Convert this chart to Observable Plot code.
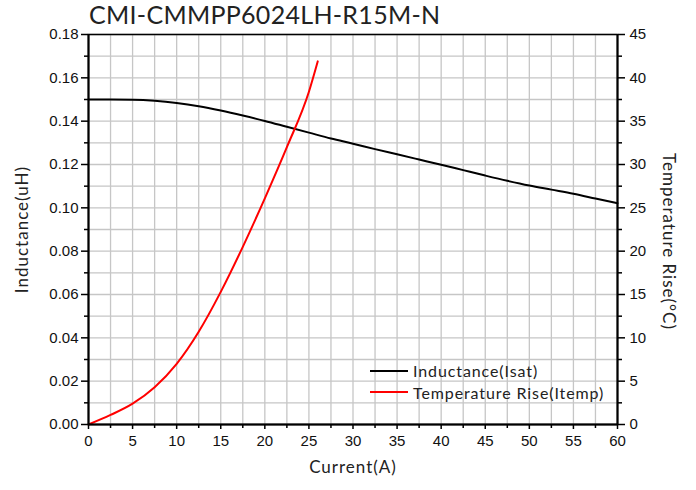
<!DOCTYPE html>
<html>
<head>
<meta charset="utf-8">
<script src="https://cdn.jsdelivr.net/npm/d3@7"></script>
<script src="https://cdn.jsdelivr.net/npm/@observablehq/plot@0.6"></script>
<style>
  html, body { margin: 0; padding: 0; background: white; }
  #wrap { position: relative; width: 696px; height: 490px; }
  #title { height: 24px; line-height: 24px; padding-left: 89px; font-family: Lato, sans-serif; font-size: 25px; letter-spacing: 0.3px; color: #222; white-space: nowrap; padding-top: 2px; box-sizing: border-box; }
  #legend { position: absolute; left: 370px; top: 360px; font-family: Lato, sans-serif; font-size: 16px; letter-spacing: 0.9px; color: #222; }
  .lg { display: flex; align-items: center; height: 21.5px; }
  .sw { width: 38px; height: 2px; margin-right: 5px; }
</style>
</head>
<body>
<div id="wrap">
  <div id="title">CMI-CMMPP6024LH-R15M-N</div>
  <div id="chart"></div>
  <div id="legend"></div>
</div>
<script>
const title = "CMI-CMMPP6024LH-R15M-N";
const xLabel = "Current(A)";
const yLabel = "Inductance(uH)";
const y2Label = "Temperature Rise(°C)";
const seriesNames = ["Inductance(Isat)", "Temperature Rise(Itemp)"];
const seriesColors = ["black", "red"];

// Inductance vs current
const indCurrent = [0, 2.5, 5, 7.5, 10, 12.5, 15, 17.5, 20, 22.5, 25, 27.5, 30, 32.5, 35, 37.5, 40, 42.5, 45, 47.5, 50, 52.5, 55, 57.5, 60];
const indValue = [0.1500, 0.1500, 0.1499, 0.1494, 0.1484, 0.1469, 0.1449, 0.1426, 0.1401, 0.1374, 0.1347, 0.1320, 0.1296, 0.1271, 0.1247, 0.1223, 0.1199, 0.1174, 0.1149, 0.1125, 0.1103, 0.1084, 0.1065, 0.1043, 0.1021];

// Temperature rise vs current
const tempCurrent = [0, 2.5, 5, 7.5, 10, 12.5, 15, 17.5, 20, 22.5, 25, 26];
const tempValue = [0, 1.1, 2.4, 4.3, 7.0, 10.7, 15.3, 20.5, 26.1, 32.0, 38.4, 41.9];

// ticks
const xTicks = [0, 5, 10, 15, 20, 25, 30, 35, 40, 45, 50, 55, 60];
const xMinor = [2.5, 7.5, 12.5, 17.5, 22.5, 27.5, 32.5, 37.5, 42.5, 47.5, 52.5, 57.5];
const yTicks = [0, 0.02, 0.04, 0.06, 0.08, 0.10, 0.12, 0.14, 0.16, 0.18];
const yMinor = [0.01, 0.03, 0.05, 0.07, 0.09, 0.11, 0.13, 0.15, 0.17];
const y2Ticks = [0, 5, 10, 15, 20, 25, 30, 35, 40, 45];
const y2Minor = [2.5, 7.5, 12.5, 17.5, 22.5, 27.5, 32.5, 37.5, 42.5];

const yMax = 0.18, y2Max = 45;
const k = y2Max / yMax; // temperature units per inductance unit

const indData = indCurrent.map((c, i) => ({c, v: indValue[i]}));
const tempData = tempCurrent.map((c, i) => ({c, t: tempValue[i]}));

const tickFont = "'Liberation Sans', Arial, sans-serif";
const labFont = "Lato, sans-serif";
const gridColor = "#c6c6c6";

const plot = Plot.plot({
  width: 696,
  height: 466,
  marginLeft: 88,
  marginRight: 79,
  marginTop: 10,
  marginBottom: 66,
  style: {background: "white", overflow: "visible"},
  x: {domain: [0, 60]},
  y: {domain: [0, yMax]},
  marks: [
    Plot.gridX([...xTicks, ...xMinor], {stroke: gridColor, strokeOpacity: 1, strokeWidth: 1.3}),
    Plot.gridY([...yTicks, ...yMinor], {stroke: gridColor, strokeOpacity: 1, strokeWidth: 1.3}),
    Plot.line(indData, {x: "c", y: "v", stroke: seriesColors[0], strokeWidth: 2, curve: "monotone-x"}),
    Plot.line(tempData, {x: "c", y: d => d.t / k, stroke: seriesColors[1], strokeWidth: 2, curve: "monotone-x"}),
    Plot.frame({stroke: "black", strokeWidth: 1.5}),
    Plot.ruleX([0], {stroke: "black", strokeWidth: 2}),
    Plot.ruleX([60], {stroke: "black", strokeWidth: 2}),
    Plot.ruleY([0], {stroke: "black", strokeWidth: 2}),
    Plot.axisX(xTicks, {tickSize: 5, tickPadding: 6, strokeWidth: 1.5, fontSize: 15, fontFamily: tickFont, fill: "#111", label: null}),
    Plot.axisX(xMinor, {tickSize: 4, strokeWidth: 1.5, text: null, label: null}),
    Plot.axisY(yTicks, {anchor: "left", tickSize: 7, tickPadding: 3, strokeWidth: 1.5, fontSize: 15, fontFamily: tickFont, fill: "#111", tickFormat: d3.format(".2f"), label: null}),
    Plot.axisY(yMinor, {anchor: "left", tickSize: 4, strokeWidth: 1.5, text: null, label: null}),
    Plot.axisY(y2Ticks.map(t => t / k), {anchor: "right", tickSize: 7, tickPadding: 5, strokeWidth: 1.5, fontSize: 15, fontFamily: tickFont, fill: "#111", tickFormat: d => String(Math.round(d * k)), label: null}),
    Plot.axisY(y2Minor.map(t => t / k), {anchor: "right", tickSize: 4, strokeWidth: 1.5, text: null, label: null}),
    Plot.text([xLabel], {frameAnchor: "bottom", dy: 48, fontSize: 17, fontFamily: labFont, fill: "#222", textAnchor: "middle"}),
    Plot.text([yLabel], {frameAnchor: "left", dx: -66, rotate: -90, textAnchor: "middle", fontSize: 17, fontFamily: labFont, fill: "#222"}),
    Plot.text([y2Label], {frameAnchor: "right", dx: 51, dy: 12, rotate: 90, textAnchor: "middle", fontSize: 17, fontFamily: labFont, fill: "#222"})
  ]
});
document.getElementById("chart").appendChild(plot);
// letter spacing for axis titles
d3.select(plot).selectAll("text").filter(function () {
  const t = this.textContent;
  return t === xLabel || t === yLabel || t === y2Label;
}).style("letter-spacing", "1px");

const legend = d3.select("#legend");
seriesNames.forEach((name, i) => {
  const row = legend.append("div").attr("class", "lg");
  row.append("div").attr("class", "sw").style("background", seriesColors[i]);
  row.append("span").text(name);
});
</script>
</body>
</html>
